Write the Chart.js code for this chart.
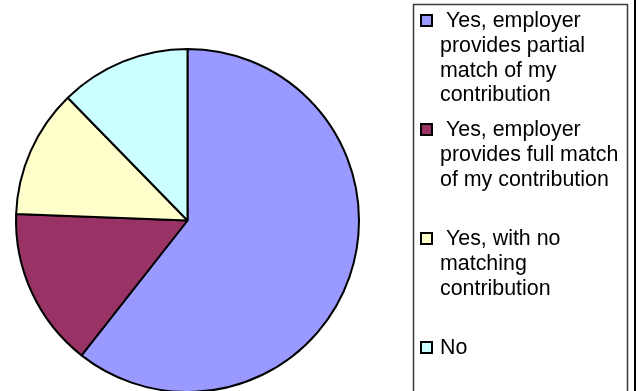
<!DOCTYPE html>
<html>
<head>
<meta charset="utf-8">
<script src="https://cdn.jsdelivr.net/npm/chart.js@4.4.0/dist/chart.umd.min.js"></script>
<style>
  html, body { margin: 0; padding: 0; background: #ffffff; overflow: hidden; }
  #wrap { position: relative; width: 639px; height: 391px; }
</style>
</head>
<body>
<div id="wrap"><canvas id="c" width="639" height="391"></canvas></div>
<script>
// ---- data ----
const categories = [
  [" Yes, employer", "provides partial", "match of my", "contribution"],
  [" Yes, employer", "provides full match", "of my contribution"],
  [" Yes, with no", "matching", "contribution"],
  ["No"]
];
const shares = [60.6, 15.0, 12.1, 12.3];
const sliceColors = ["#9999FF", "#993366", "#FFFFCC", "#CCFFFF"];

const legendPlugin = {
  id: 'boxLegend',
  afterDraw(chart) {
    const ctx = chart.ctx;
    const labels = chart.data.labels;
    const colors = chart.data.datasets[0].backgroundColor;
    ctx.save();
    // legend frame
    ctx.strokeStyle = '#3a3a3a';
    ctx.lineWidth = 1.5;
    ctx.strokeRect(413.5, 4.5, 214, 420);
    // outer right border line
    ctx.strokeStyle = '#000000';
    ctx.lineWidth = 2;
    ctx.beginPath();
    ctx.moveTo(635, 0);
    ctx.lineTo(635, 391);
    ctx.stroke();
    ctx.font = '21.4px "Liberation Sans", Arial, sans-serif';
    ctx.textBaseline = 'middle';
    ctx.textAlign = 'left';
    const itemStep = 109;
    const lineStep = 24.7;
    labels.forEach((lines, i) => {
      const y0 = 20.5 + i * itemStep;
      ctx.fillStyle = colors[i];
      ctx.fillRect(421, y0 - 5.5, 11, 11);
      ctx.strokeStyle = '#000';
      ctx.lineWidth = 2;
      ctx.strokeRect(421, y0 - 5.5, 11, 11);
      ctx.fillStyle = '#000';
      lines.forEach((t, j) => {
        ctx.fillText(t, 440, y0 + j * lineStep + 1);
      });
    });
    ctx.restore();
  }
};

new Chart(document.getElementById('c'), {
  type: 'pie',
  data: {
    labels: categories,
    datasets: [{
      data: shares,
      backgroundColor: sliceColors,
      borderColor: '#000000',
      borderWidth: 2,
      hoverOffset: 0,
      clip: false
    }]
  },
  options: {
    responsive: false,
    animation: false,
    events: [],
    radius: 171.5,
    layout: { padding: { left: 16, right: 280, top: 50, bottom: 0 } },
    plugins: {
      legend: { display: false },
      tooltip: { enabled: false },
      title: { display: false }
    }
  },
  plugins: [legendPlugin]
});
</script>
</body>
</html>
